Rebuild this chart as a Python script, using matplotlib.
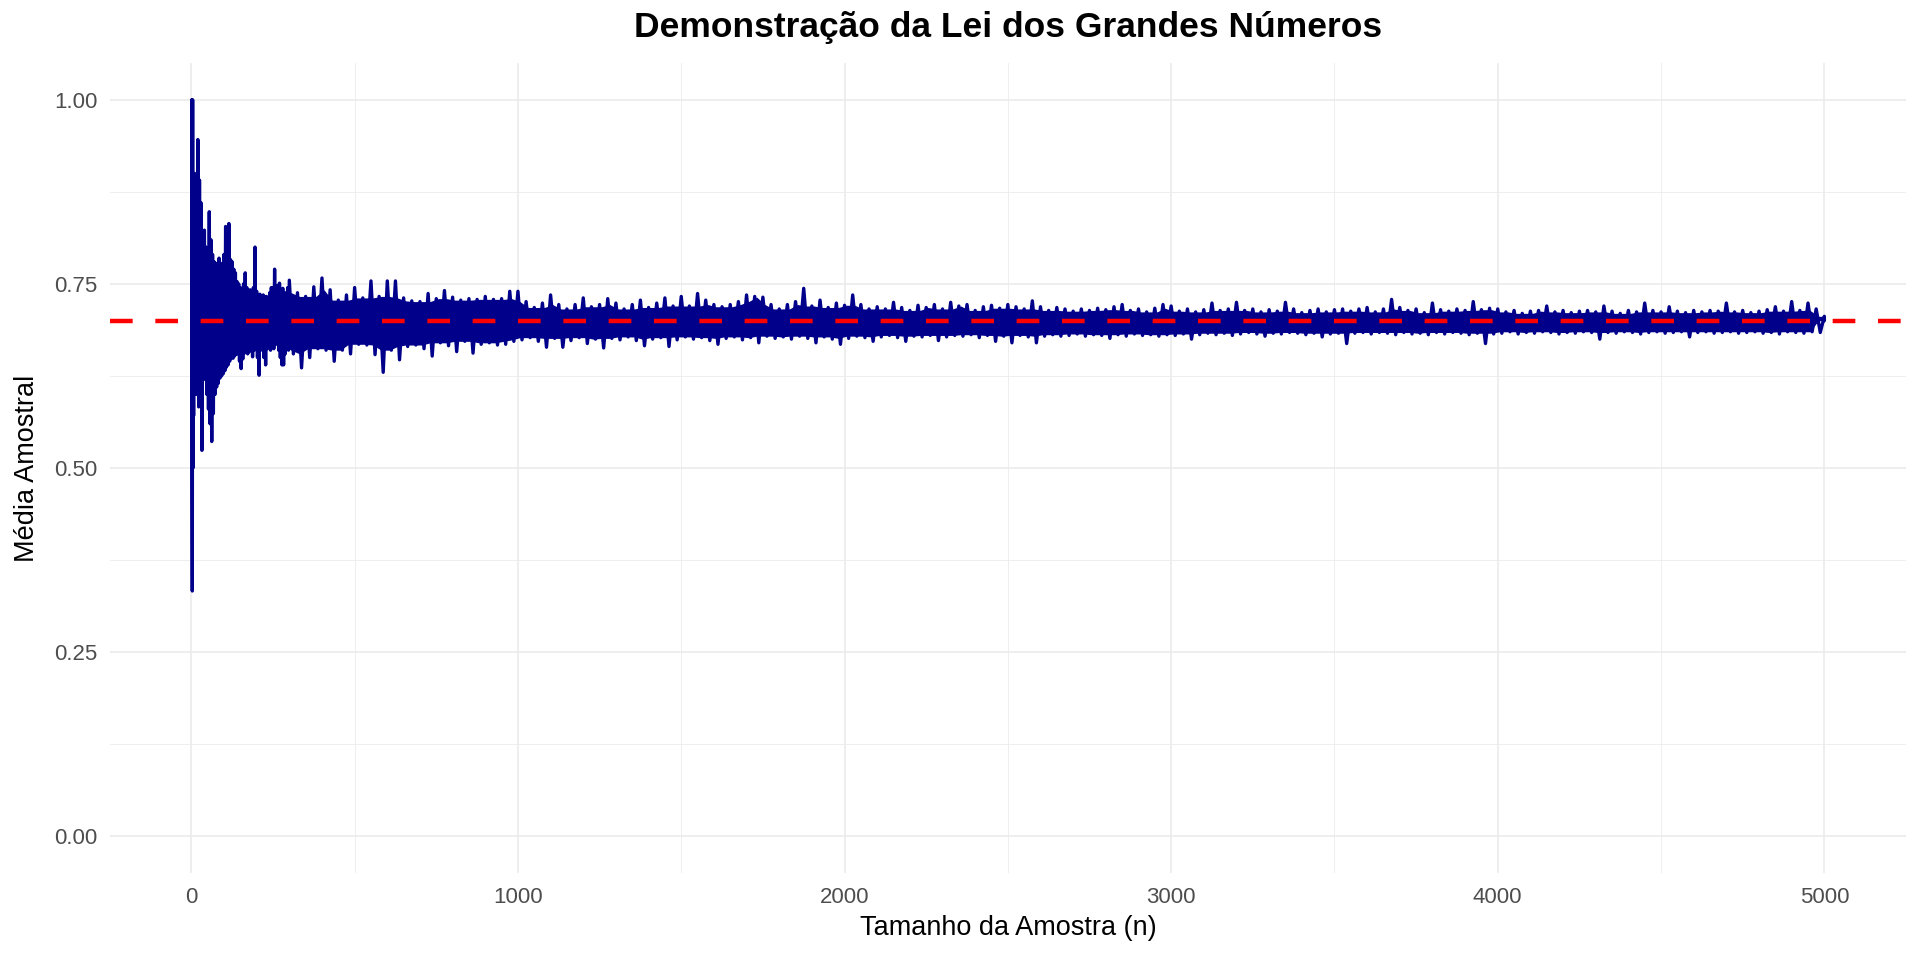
import numpy as np
import matplotlib
matplotlib.use("Agg")
import matplotlib.pyplot as plt
from matplotlib.ticker import MultipleLocator, FixedLocator, FixedFormatter

plt.rcParams['font.family'] = ['Liberation Sans', 'DejaVu Sans']

# ---------------- data ----------------
TRUE_P = 0.70

# individual sample means for the first sizes
first_n = list(range(1, 20))
first_mean = [1.000, 0.500, 0.333, 1.000, 0.500, 0.833, 0.571, 0.889, 0.667, 0.900,
              0.636, 0.833, 0.692, 0.857, 0.600, 0.875, 0.647, 0.889, 0.632]

# n = 20 .. 295, bins of 5: highest / lowest sample mean in each bin
early_start, early_width = 20, 5
early_hi = [0.946, 0.891, 0.860, 0.783, 0.823, 0.800, 0.790, 0.848, 0.810, 0.790,
            0.780, 0.778, 0.776, 0.785, 0.775, 0.778, 0.790, 0.828, 0.790, 0.832,
            0.783, 0.780, 0.770, 0.765, 0.753, 0.750, 0.745, 0.742, 0.750, 0.765,
            0.745, 0.740, 0.742, 0.738, 0.745, 0.800, 0.740, 0.735, 0.736, 0.732,
            0.735, 0.733, 0.733, 0.730, 0.738, 0.745, 0.745, 0.770, 0.740, 0.748,
            0.751, 0.740, 0.744, 0.735, 0.738, 0.745]
early_lo = [0.583, 0.600, 0.524, 0.620, 0.628, 0.600, 0.580, 0.560, 0.536, 0.574,
            0.600, 0.610, 0.615, 0.622, 0.625, 0.628, 0.632, 0.637, 0.640, 0.645,
            0.650, 0.649, 0.652, 0.655, 0.655, 0.645, 0.635, 0.648, 0.656, 0.657,
            0.655, 0.658, 0.660, 0.651, 0.660, 0.662, 0.650, 0.626, 0.660, 0.662,
            0.650, 0.640, 0.662, 0.664, 0.660, 0.665, 0.662, 0.669, 0.668, 0.660,
            0.650, 0.640, 0.640, 0.655, 0.662, 0.660]

# n = 300 .. 5000, bins of 25: highest / lowest sample mean in each bin
bin_width = 25
hi_300 = [0.755, 0.738, 0.733, 0.746, 0.758, 0.742, 0.728, 0.735, 0.745, 0.731,
          0.754, 0.733, 0.754, 0.754, 0.731, 0.727, 0.726, 0.737, 0.730, 0.741,
          0.732, 0.728, 0.730, 0.729, 0.733, 0.729, 0.730, 0.740]
lo_300 = [0.655, 0.636, 0.650, 0.662, 0.660, 0.645, 0.660, 0.655, 0.668, 0.667,
          0.654, 0.630, 0.660, 0.647, 0.665, 0.667, 0.662, 0.652, 0.670, 0.666,
          0.658, 0.672, 0.656, 0.668, 0.670, 0.667, 0.668, 0.672]
hi_1000 = [0.740, 0.726, 0.718, 0.724, 0.735, 0.722, 0.716, 0.722, 0.731, 0.719,
           0.722, 0.730, 0.724, 0.716, 0.722, 0.728, 0.718, 0.724, 0.731, 0.720,
           0.733, 0.720, 0.737, 0.728, 0.722, 0.719, 0.722, 0.726, 0.735, 0.733,
           0.732, 0.722, 0.716, 0.722, 0.726, 0.744, 0.720, 0.728, 0.718, 0.724]
lo_1000 = [0.674, 0.677, 0.672, 0.664, 0.676, 0.664, 0.673, 0.677, 0.669, 0.675,
           0.663, 0.676, 0.674, 0.678, 0.673, 0.666, 0.675, 0.677, 0.665, 0.674,
           0.678, 0.675, 0.677, 0.673, 0.668, 0.676, 0.678, 0.674, 0.677, 0.670,
           0.679, 0.676, 0.678, 0.675, 0.679, 0.676, 0.670, 0.678, 0.675, 0.668]
hi_2000 = [0.721, 0.735, 0.722, 0.716, 0.719, 0.716, 0.725, 0.718, 0.714, 0.721,
           0.718, 0.722, 0.716, 0.725, 0.720, 0.722, 0.714, 0.719, 0.721, 0.717,
           0.722, 0.719, 0.716, 0.727, 0.719, 0.714, 0.718, 0.716, 0.713, 0.716,
           0.714, 0.717, 0.715, 0.719, 0.722, 0.714, 0.716, 0.712, 0.717, 0.722]
lo_2000 = [0.676, 0.679, 0.677, 0.672, 0.678, 0.680, 0.677, 0.672, 0.679, 0.678,
           0.680, 0.673, 0.678, 0.680, 0.679, 0.681, 0.677, 0.680, 0.672, 0.679,
           0.670, 0.680, 0.678, 0.670, 0.679, 0.681, 0.679, 0.680, 0.682, 0.679,
           0.681, 0.680, 0.676, 0.681, 0.679, 0.682, 0.680, 0.681, 0.679, 0.681]
hi_3000 = [0.720, 0.713, 0.716, 0.712, 0.715, 0.724, 0.714, 0.716, 0.725, 0.714,
           0.716, 0.712, 0.715, 0.713, 0.725, 0.716, 0.711, 0.714, 0.716, 0.712,
           0.715, 0.716, 0.713, 0.716, 0.718, 0.712, 0.716, 0.729, 0.718, 0.714,
           0.716, 0.711, 0.724, 0.715, 0.713, 0.716, 0.714, 0.726, 0.715, 0.717]
lo_3000 = [0.680, 0.682, 0.675, 0.681, 0.683, 0.681, 0.683, 0.680, 0.682, 0.684,
           0.682, 0.679, 0.683, 0.682, 0.684, 0.683, 0.681, 0.683, 0.678, 0.682,
           0.683, 0.669, 0.683, 0.684, 0.682, 0.684, 0.683, 0.681, 0.684, 0.682,
           0.683, 0.681, 0.684, 0.682, 0.684, 0.683, 0.681, 0.683, 0.669, 0.682]
hi_4000 = [0.716, 0.712, 0.714, 0.710, 0.713, 0.714, 0.720, 0.712, 0.714, 0.711,
           0.713, 0.714, 0.712, 0.720, 0.713, 0.710, 0.714, 0.712, 0.724, 0.714,
           0.712, 0.719, 0.713, 0.711, 0.714, 0.712, 0.714, 0.713, 0.724, 0.712,
           0.714, 0.711, 0.713, 0.715, 0.719, 0.713, 0.726, 0.714, 0.724, 0.716,
           0.706]
lo_4000 = [0.683, 0.685, 0.682, 0.684, 0.683, 0.685, 0.684, 0.682, 0.684, 0.683,
           0.685, 0.684, 0.675, 0.684, 0.683, 0.685, 0.684, 0.682, 0.684, 0.685,
           0.683, 0.684, 0.685, 0.678, 0.684, 0.685, 0.683, 0.684, 0.685, 0.683,
           0.684, 0.685, 0.683, 0.684, 0.682, 0.685, 0.684, 0.683, 0.685, 0.684,
           0.700]

x_ticks = [0, 1000, 2000, 3000, 4000, 5000]
x_tick_labels = ["0", "1000", "2000", "3000", "4000", "5000"]
y_ticks = [0.00, 0.25, 0.50, 0.75, 1.00]
y_tick_labels = ["0.00", "0.25", "0.50", "0.75", "1.00"]

title = "Demonstração da Lei dos Grandes Números"
xlabel = "Tamanho da Amostra (n)"
ylabel = "Média Amostral"
N_MAX = 5000

# ---------------- assemble ----------------
late_hi = hi_300 + hi_1000 + hi_2000 + hi_3000 + hi_4000
late_lo = lo_300 + lo_1000 + lo_2000 + lo_3000 + lo_4000
early_n = [early_start + early_width * i for i in range(len(early_hi))]
late_n = [300 + bin_width * i for i in range(len(late_hi))]


def zigzag(ns, his, los, w):
    xs, ys = [], []
    for n, h, l in zip(ns, his, los):
        xs += [n, min(n + w / 2.0, N_MAX)]
        ys += [h, l]
    return xs, ys


ex, ey = zigzag(early_n, early_hi, early_lo, early_width)
lx, ly = zigzag(late_n, late_hi, late_lo, bin_width)
line_x = list(first_n) + ex + lx
line_y = list(first_mean) + ey + ly

# solid core of the band (where neighbouring bins overlap)
all_n = np.array(early_n + late_n, dtype=float)
all_w = np.array([early_width] * len(early_n) + [bin_width] * len(late_n), dtype=float)
all_hi = np.array(early_hi + late_hi)
all_lo = np.array(early_lo + late_lo)
core_hi = np.minimum(all_hi, np.minimum(np.r_[all_hi[0], all_hi[:-1]], np.r_[all_hi[1:], all_hi[-1]]))
core_lo = np.maximum(all_lo, np.maximum(np.r_[all_lo[0], all_lo[:-1]], np.r_[all_lo[1:], all_lo[-1]]))
core_x = np.minimum(all_n + all_w / 4.0, N_MAX)

# ---------------- figure ----------------
W, H = 1920, 960
fig = plt.figure(figsize=(W / 100, H / 100), dpi=100)
fig.patch.set_facecolor("white")
left, right, top, bottom = 110, 1906, 63, 873
ax = fig.add_axes([left / W, 1 - bottom / H, (right - left) / W, (bottom - top) / H])

navy = "#00008B"
ax.fill_between(core_x, core_lo, core_hi, color=navy, lw=0, zorder=2)
ax.plot(line_x, line_y, color=navy, lw=2.4, solid_joinstyle="round",
        solid_capstyle="round", zorder=3)
ax.axhline(TRUE_P, color="red", lw=3.2, linestyle=(0, (5.1, 5.1)), zorder=4)

ax.set_xlim(-249, 5250)
ax.set_ylim(-0.05, 1.05)

ax.xaxis.set_major_locator(FixedLocator(x_ticks))
ax.xaxis.set_major_formatter(FixedFormatter(x_tick_labels))
ax.xaxis.set_minor_locator(MultipleLocator(500))
ax.yaxis.set_major_locator(FixedLocator(y_ticks))
ax.yaxis.set_major_formatter(FixedFormatter(y_tick_labels))
ax.yaxis.set_minor_locator(MultipleLocator(0.125))

ax.grid(which="major", color="#EBEBEB", lw=1.2, zorder=0)
ax.grid(which="minor", color="#EBEBEB", lw=0.6, zorder=0)
ax.set_axisbelow(True)
for s in ax.spines.values():
    s.set_visible(False)
ax.tick_params(which="both", length=0)
ax.tick_params(axis="x", labelsize=16, labelcolor="#4D4D4D", pad=10)
ax.tick_params(axis="y", labelsize=16, labelcolor="#4D4D4D", pad=9)

cx = (left + right) / 2 / W
fig.text(cx, 1 - 27 / H, title, ha="center", va="center", fontsize=25.5, fontweight="bold")
fig.text(cx, 1 - 928 / H, xlabel, ha="center", va="center", fontsize=19.5)
fig.text(27 / W, 1 - (top + bottom) / 2 / H, ylabel, ha="center", va="center",
         fontsize=19.5, rotation=90)

fig.savefig("out.png", dpi=100, facecolor="white")
